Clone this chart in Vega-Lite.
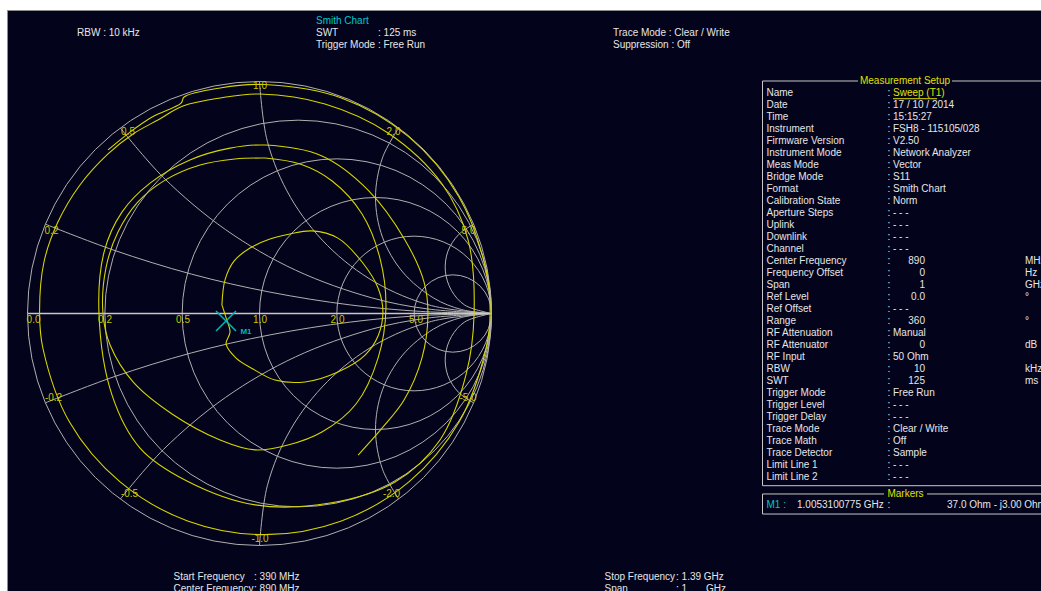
{
"$schema": "https://vega.github.io/schema/vega-lite/v6.json",
"width": 1034,
"height": 581,
"autosize": {"type": "none"},
"padding": {"left": 7, "top": 10, "right": 0, "bottom": 0},
"background": "#ffffff",
"config": {
  "view": {"fill": "#03031b", "stroke": "#8c8c8c", "strokeWidth": 1},
  "axis": {"disable": true},
  "legend": {"disable": true},
  "text": {"font": "Liberation Sans", "fontSize": 10}
},
"datasets": {
  "circles": [
    {"cu": 0, "d": 2, "v": 0},
    {"cu": 0.1667, "d": 1.6667, "v": 0},
    {"cu": 0.3333, "d": 1.3333, "v": 0},
    {"cu": 0.5, "d": 1, "v": 0},
    {"cu": 0.6667, "d": 0.6667, "v": 0},
    {"cu": 0.8333, "d": 0.3333, "v": 0}
  ],
  "arcs": [
    {"p": "a02", "i": 0, "u": -0.923, "v": 0.385}, {"p": "a02", "i": 1, "u": -0.628, "v": 0.273}, {"p": "a02", "i": 2, "u": -0.294, "v": 0.17}, {"p": "a02", "i": 3, "u": 0.046, "v": 0.092}, {"p": "a02", "i": 4, "u": 0.391, "v": 0.037}, {"p": "a02", "i": 5, "u": 0.695, "v": 0.009}, {"p": "a02", "i": 6, "u": 1, "v": 0},
    {"p": "a05", "i": 0, "u": -0.6, "v": 0.8}, {"p": "a05", "i": 1, "u": -0.414, "v": 0.586}, {"p": "a05", "i": 2, "u": -0.147, "v": 0.362}, {"p": "a05", "i": 3, "u": 0.155, "v": 0.187}, {"p": "a05", "i": 4, "u": 0.482, "v": 0.068}, {"p": "a05", "i": 5, "u": 0.722, "v": 0.02}, {"p": "a05", "i": 6, "u": 1, "v": 0},
    {"p": "a1", "i": 0, "u": 0, "v": 1}, {"p": "a1", "i": 1, "u": 0.034, "v": 0.741}, {"p": "a1", "i": 2, "u": 0.134, "v": 0.5}, {"p": "a1", "i": 3, "u": 0.293, "v": 0.293}, {"p": "a1", "i": 4, "u": 0.5, "v": 0.134}, {"p": "a1", "i": 5, "u": 0.741, "v": 0.034}, {"p": "a1", "i": 6, "u": 1, "v": 0},
    {"p": "a2", "i": 0, "u": 0.6, "v": 0.8}, {"p": "a2", "i": 1, "u": 0.53, "v": 0.671}, {"p": "a2", "i": 2, "u": 0.5, "v": 0.5}, {"p": "a2", "i": 3, "u": 0.53, "v": 0.329}, {"p": "a2", "i": 4, "u": 0.617, "v": 0.179}, {"p": "a2", "i": 5, "u": 0.75, "v": 0.067}, {"p": "a2", "i": 6, "u": 0.871, "v": 0.017}, {"p": "a2", "i": 7, "u": 1, "v": 0},
    {"p": "a5", "i": 0, "u": 0.923, "v": 0.385}, {"p": "a5", "i": 1, "u": 0.859, "v": 0.341}, {"p": "a5", "i": 2, "u": 0.812, "v": 0.268}, {"p": "a5", "i": 3, "u": 0.801, "v": 0.183}, {"p": "a5", "i": 4, "u": 0.827, "v": 0.1}, {"p": "a5", "i": 5, "u": 0.885, "v": 0.036}, {"p": "a5", "i": 6, "u": 1, "v": 0},
    {"p": "b02", "i": 0, "u": -0.923, "v": -0.385}, {"p": "b02", "i": 1, "u": -0.628, "v": -0.273}, {"p": "b02", "i": 2, "u": -0.294, "v": -0.17}, {"p": "b02", "i": 3, "u": 0.046, "v": -0.092}, {"p": "b02", "i": 4, "u": 0.391, "v": -0.037}, {"p": "b02", "i": 5, "u": 0.695, "v": -0.009}, {"p": "b02", "i": 6, "u": 1, "v": 0},
    {"p": "b05", "i": 0, "u": -0.6, "v": -0.8}, {"p": "b05", "i": 1, "u": -0.414, "v": -0.586}, {"p": "b05", "i": 2, "u": -0.147, "v": -0.362}, {"p": "b05", "i": 3, "u": 0.155, "v": -0.187}, {"p": "b05", "i": 4, "u": 0.482, "v": -0.068}, {"p": "b05", "i": 5, "u": 0.722, "v": -0.02}, {"p": "b05", "i": 6, "u": 1, "v": 0},
    {"p": "b1", "i": 0, "u": 0, "v": -1}, {"p": "b1", "i": 1, "u": 0.034, "v": -0.741}, {"p": "b1", "i": 2, "u": 0.134, "v": -0.5}, {"p": "b1", "i": 3, "u": 0.293, "v": -0.293}, {"p": "b1", "i": 4, "u": 0.5, "v": -0.134}, {"p": "b1", "i": 5, "u": 0.741, "v": -0.034}, {"p": "b1", "i": 6, "u": 1, "v": 0},
    {"p": "b2", "i": 0, "u": 0.6, "v": -0.8}, {"p": "b2", "i": 1, "u": 0.53, "v": -0.671}, {"p": "b2", "i": 2, "u": 0.5, "v": -0.5}, {"p": "b2", "i": 3, "u": 0.53, "v": -0.329}, {"p": "b2", "i": 4, "u": 0.617, "v": -0.179}, {"p": "b2", "i": 5, "u": 0.75, "v": -0.067}, {"p": "b2", "i": 6, "u": 0.871, "v": -0.017}, {"p": "b2", "i": 7, "u": 1, "v": 0},
    {"p": "b5", "i": 0, "u": 0.923, "v": -0.385}, {"p": "b5", "i": 1, "u": 0.859, "v": -0.341}, {"p": "b5", "i": 2, "u": 0.812, "v": -0.268}, {"p": "b5", "i": 3, "u": 0.801, "v": -0.183}, {"p": "b5", "i": 4, "u": 0.827, "v": -0.1}, {"p": "b5", "i": 5, "u": 0.885, "v": -0.036}, {"p": "b5", "i": 6, "u": 1, "v": 0}
  ],
  "trace": [
    {"p": "s", "i": 0, "u": -0.653, "v": 0.705}, {"p": "s", "i": 1, "u": -0.558, "v": 0.782}, {"p": "s", "i": 2, "u": -0.463, "v": 0.847}, {"p": "s", "i": 3, "u": -0.338, "v": 0.907}, {"p": "s", "i": 4, "u": -0.325, "v": 0.933}, {"p": "s", "i": 5, "u": -0.17, "v": 0.972},
    {"p": "s", "i": 6, "u": 0.022, "v": 0.987}, {"p": "s", "i": 7, "u": 0.353, "v": 0.929}, {"p": "s", "i": 8, "u": 0.644, "v": 0.761}, {"p": "s", "i": 9, "u": 0.86, "v": 0.502}, {"p": "s", "i": 10, "u": 0.976, "v": 0.188}, {"p": "s", "i": 11, "u": 0.994, "v": 0.002},
    {"p": "s", "i": 12, "u": 0.976, "v": -0.153}, {"p": "s", "i": 13, "u": 0.86, "v": -0.468}, {"p": "s", "i": 14, "u": 0.644, "v": -0.726}, {"p": "s", "i": 15, "u": 0.353, "v": -0.894}, {"p": "s", "i": 16, "u": 0.022, "v": -0.953}, {"p": "s", "i": 17, "u": -0.31, "v": -0.894},
    {"p": "s", "i": 18, "u": -0.601, "v": -0.726}, {"p": "s", "i": 19, "u": -0.819, "v": -0.468}, {"p": "s", "i": 20, "u": -0.933, "v": -0.153}, {"p": "s", "i": 21, "u": -0.948, "v": 0.002}, {"p": "s", "i": 22, "u": -0.929, "v": 0.222}, {"p": "s", "i": 23, "u": -0.869, "v": 0.394},
    {"p": "s", "i": 24, "u": -0.774, "v": 0.554}, {"p": "s", "i": 25, "u": -0.653, "v": 0.688}, {"p": "s", "i": 26, "u": -0.545, "v": 0.774}, {"p": "s", "i": 27, "u": -0.438, "v": 0.834}, {"p": "s", "i": 28, "u": -0.33, "v": 0.894}, {"p": "s", "i": 29, "u": -0.17, "v": 0.929},
    {"p": "s", "i": 30, "u": 0.002, "v": 0.946}, {"p": "s", "i": 31, "u": 0.282, "v": 0.903}, {"p": "s", "i": 32, "u": 0.554, "v": 0.778}, {"p": "s", "i": 33, "u": 0.787, "v": 0.558}, {"p": "s", "i": 34, "u": 0.899, "v": 0.317}, {"p": "s", "i": 35, "u": 0.925, "v": 0.002},
    {"p": "s", "i": 36, "u": 0.89, "v": -0.265}, {"p": "s", "i": 37, "u": 0.778, "v": -0.545}, {"p": "s", "i": 38, "u": 0.584, "v": -0.726}, {"p": "s", "i": 39, "u": 0.304, "v": -0.817}, {"p": "s", "i": 40, "u": -0.019, "v": -0.825}, {"p": "s", "i": 41, "u": -0.313, "v": -0.722},
    {"p": "s", "i": 42, "u": -0.515, "v": -0.58}, {"p": "s", "i": 43, "u": -0.636, "v": -0.351}, {"p": "s", "i": 44, "u": -0.692, "v": 0.002}, {"p": "s", "i": 45, "u": -0.67, "v": 0.265}, {"p": "s", "i": 46, "u": -0.593, "v": 0.437}, {"p": "s", "i": 47, "u": -0.472, "v": 0.562},
    {"p": "s", "i": 48, "u": -0.3, "v": 0.662}, {"p": "s", "i": 49, "u": -0.127, "v": 0.713}, {"p": "s", "i": 50, "u": 0.024, "v": 0.726}, {"p": "s", "i": 51, "u": 0.269, "v": 0.679}, {"p": "s", "i": 52, "u": 0.468, "v": 0.532}, {"p": "s", "i": 53, "u": 0.627, "v": 0.317},
    {"p": "s", "i": 54, "u": 0.709, "v": 0.136}, {"p": "s", "i": 55, "u": 0.726, "v": -0.006}, {"p": "s", "i": 56, "u": 0.7, "v": -0.192}, {"p": "s", "i": 57, "u": 0.623, "v": -0.373}, {"p": "s", "i": 58, "u": 0.528, "v": -0.494}, {"p": "s", "i": 59, "u": 0.425, "v": -0.61},
    {"p": "l4", "i": 0, "u": 0.024, "v": 0.67}, {"p": "l4", "i": 1, "u": 0.175, "v": 0.644}, {"p": "l4", "i": 2, "u": 0.313, "v": 0.571}, {"p": "l4", "i": 3, "u": 0.442, "v": 0.429}, {"p": "l4", "i": 4, "u": 0.519, "v": 0.239}, {"p": "l4", "i": 5, "u": 0.545, "v": 0.024},
    {"p": "l4", "i": 6, "u": 0.511, "v": -0.192}, {"p": "l4", "i": 7, "u": 0.416, "v": -0.39}, {"p": "l4", "i": 8, "u": 0.269, "v": -0.511}, {"p": "l4", "i": 9, "u": 0.123, "v": -0.567}, {"p": "l4", "i": 10, "u": -0.019, "v": -0.588}, {"p": "l4", "i": 11, "u": -0.17, "v": -0.545},
    {"p": "l4", "i": 12, "u": -0.377, "v": -0.433}, {"p": "l4", "i": 13, "u": -0.545, "v": -0.295}, {"p": "l4", "i": 14, "u": -0.644, "v": -0.136}, {"p": "l4", "i": 15, "u": -0.675, "v": 0.002}, {"p": "l4", "i": 16, "u": -0.662, "v": 0.196}, {"p": "l4", "i": 17, "u": -0.61, "v": 0.351},
    {"p": "l4", "i": 18, "u": -0.524, "v": 0.481}, {"p": "l4", "i": 19, "u": -0.407, "v": 0.575}, {"p": "l4", "i": 20, "u": -0.256, "v": 0.64}, {"p": "l4", "i": 21, "u": -0.106, "v": 0.666}, {"p": "l4", "i": 22, "u": 0.024, "v": 0.67},
    {"p": "in", "i": 0, "u": -0.162, "v": 0.037}, {"p": "in", "i": 1, "u": -0.149, "v": 0.144}, {"p": "in", "i": 2, "u": -0.11, "v": 0.226}, {"p": "in", "i": 3, "u": -0.041, "v": 0.282}, {"p": "in", "i": 4, "u": 0.045, "v": 0.321}, {"p": "in", "i": 5, "u": 0.131, "v": 0.343},
    {"p": "in", "i": 6, "u": 0.226, "v": 0.356}, {"p": "in", "i": 7, "u": 0.338, "v": 0.325}, {"p": "in", "i": 8, "u": 0.442, "v": 0.222}, {"p": "in", "i": 9, "u": 0.511, "v": 0.11}, {"p": "in", "i": 10, "u": 0.532, "v": 0.006}, {"p": "in", "i": 11, "u": 0.511, "v": -0.097},
    {"p": "in", "i": 12, "u": 0.455, "v": -0.179}, {"p": "in", "i": 13, "u": 0.338, "v": -0.252}, {"p": "in", "i": 14, "u": 0.196, "v": -0.295}, {"p": "in", "i": 15, "u": 0.067, "v": -0.287}, {"p": "in", "i": 16, "u": -0.028, "v": -0.239}, {"p": "in", "i": 17, "u": -0.101, "v": -0.192},
    {"p": "in", "i": 18, "u": -0.144, "v": -0.131}, {"p": "in", "i": 19, "u": -0.127, "v": -0.08}, {"p": "in", "i": 20, "u": -0.144, "v": -0.019}, {"p": "in", "i": 21, "u": -0.162, "v": 0.037}
  ],
  "glabels": [
    {"t": "0.0", "u": -0.9741, "v": -0.028}, {"t": "0.2", "u": -0.6659, "v": -0.028}, {"t": "0.5", "u": -0.3297, "v": -0.028}, {"t": "1.0", "u": 0.0022, "v": -0.028}, {"t": "2.0", "u": 0.3362, "v": -0.028}, {"t": "5.0", "u": 0.6746, "v": -0.028},
    {"t": "0.2", "u": -0.8966, "v": 0.3556}, {"t": "0.5", "u": -0.5668, "v": 0.7802}, {"t": "1.0", "u": 0.0022, "v": 0.9806}, {"t": "2.0", "u": 0.5776, "v": 0.7802}, {"t": "5.0", "u": 0.9009, "v": 0.3556},
    {"t": "-0.2", "u": -0.8879, "v": -0.3621}, {"t": "-0.5", "u": -0.5603, "v": -0.778}, {"t": "-1.0", "u": 0.0022, "v": -0.972}, {"t": "-2.0", "u": 0.569, "v": -0.778}, {"t": "-5.0", "u": 0.8987, "v": -0.3621}
  ],
  "rows": [
    {"row": 0, "label": "Name"},
    {"row": 1, "label": "Date", "val": "17 / 10 / 2014"},
    {"row": 2, "label": "Time", "val": "15:15:27"},
    {"row": 3, "label": "Instrument", "val": "FSH8 - 115105/028"},
    {"row": 4, "label": "Firmware Version", "val": "V2.50"},
    {"row": 5, "label": "Instrument Mode", "val": "Network Analyzer"},
    {"row": 6, "label": "Meas Mode", "val": "Vector"},
    {"row": 7, "label": "Bridge Mode", "val": "S11"},
    {"row": 8, "label": "Format", "val": "Smith Chart"},
    {"row": 9, "label": "Calibration State", "val": "Norm"},
    {"row": 10, "label": "Aperture Steps", "val": "- - -"},
    {"row": 11, "label": "Uplink", "val": "- - -"},
    {"row": 12, "label": "Downlink", "val": "- - -"},
    {"row": 13, "label": "Channel", "val": "- - -"},
    {"row": 14, "label": "Center Frequency", "num": "890", "unit": "MHz"},
    {"row": 15, "label": "Frequency Offset", "num": "0", "unit": "Hz"},
    {"row": 16, "label": "Span", "num": "1", "unit": "GHz"},
    {"row": 17, "label": "Ref Level", "num": "0.0", "unit": "°"},
    {"row": 18, "label": "Ref Offset", "val": "- - -"},
    {"row": 19, "label": "Range", "num": "360", "unit": "°"},
    {"row": 20, "label": "RF Attenuation", "val": "Manual"},
    {"row": 21, "label": "RF Attenuator", "num": "0", "unit": "dB"},
    {"row": 22, "label": "RF Input", "val": "50 Ohm"},
    {"row": 23, "label": "RBW", "num": "10", "unit": "kHz"},
    {"row": 24, "label": "SWT", "num": "125", "unit": "ms"},
    {"row": 25, "label": "Trigger Mode", "val": "Free Run"},
    {"row": 26, "label": "Trigger Level", "val": "- - -"},
    {"row": 27, "label": "Trigger Delay", "val": "- - -"},
    {"row": 28, "label": "Trace Mode", "val": "Clear / Write"},
    {"row": 29, "label": "Trace Math", "val": "Off"},
    {"row": 30, "label": "Trace Detector", "val": "Sample"},
    {"row": 31, "label": "Limit Line 1", "val": "- - -"},
    {"row": 32, "label": "Limit Line 2", "val": "- - -"}
  ],
  "free": [
    {"u": -0.7866, "row": -5, "t": "RBW : 10 kHz"},
    {"u": 0.2435, "row": -5, "t": "SWT"},
    {"u": 0.5108, "row": -5, "t": ": 125 ms"},
    {"u": 0.2435, "row": -4, "t": "Trigger Mode : Free Run"},
    {"u": 1.5237, "row": -5, "t": "Trace Mode : Clear / Write"},
    {"u": 1.5237, "row": -4, "t": "Suppression : Off"},
    {"u": -0.3707, "row": 40.31, "t": "Start Frequency"},
    {"u": -0.0237, "row": 40.31, "t": ": 390 MHz"},
    {"u": -0.3707, "row": 41.31, "t": "Center Frequency"},
    {"u": -0.0237, "row": 41.31, "t": ": 890 MHz"},
    {"u": 1.4871, "row": 40.31, "t": "Stop Frequency"},
    {"u": 1.7953, "row": 40.31, "t": ": 1.39 GHz"},
    {"u": 1.4871, "row": 41.31, "t": "Span"},
    {"u": 1.7953, "row": 41.31, "t": ": 1"},
    {"u": 1.9246, "row": 41.31, "t": "GHz"},
    {"u": 2.3168, "row": 34.33, "t": "1.0053100775 GHz"},
    {"u": 2.7069, "row": 34.33, "t": ":"},
    {"u": 2.9634, "row": 34.33, "t": "37.0  Ohm - j3.00 Ohm"}
  ],
  "cyan": [
    {"u": 0.2435, "row": -6, "t": "Smith Chart"},
    {"u": 2.1853, "row": 34.33, "t": "M1 :"}
  ],
  "titles": [
    {"u": 2.7823, "row": -1.025, "t": "Measurement Setup"},
    {"u": 2.7845, "row": 33.39, "t": "Markers"}
  ],
  "box": [
    {"x1": 2.1681, "x2": 2.5797, "y1": -1.025, "y2": -1.025},
    {"x1": 2.9849, "x2": 3.4, "y1": -1.025, "y2": -1.025},
    {"x1": 2.1681, "x2": 2.1681, "y1": -1.025, "y2": 32.7},
    {"x1": 2.1681, "x2": 3.4, "y1": 32.7, "y2": 32.7},
    {"x1": 2.1681, "x2": 2.6918, "y1": 33.39, "y2": 33.39},
    {"x1": 2.8772, "x2": 3.4, "y1": 33.39, "y2": 33.39},
    {"x1": 2.1681, "x2": 2.1681, "y1": 33.39, "y2": 35.06},
    {"x1": 2.1681, "x2": 3.4, "y1": 35.06, "y2": 35.06}
  ]
},
"layer": [
  {
    "layer": [
      {
        "data": {"name": "circles"},
        "mark": {"type": "point", "shape": "circle", "filled": false, "color": "#b0b0b0", "strokeWidth": 1, "opacity": 1},
        "encoding": {
          "x": {"field": "cu", "type": "quantitative", "scale": {"domain": [-1.0884, 3.3685], "nice": false, "zero": false}},
          "y": {"field": "v", "type": "quantitative", "scale": {"domain": [-1.1961, 1.3082], "nice": false, "zero": false}},
          "size": {"field": "d", "type": "quantitative", "scale": {"type": "pow", "exponent": 2, "domain": [0, 2], "range": [0, 215296]}, "legend": null}
        }
      },
      {
        "data": {"name": "arcs"},
        "mark": {"type": "line", "color": "#b0b0b0", "strokeWidth": 1, "interpolate": "catmull-rom"},
        "encoding": {
          "x": {"field": "u", "type": "quantitative", "scale": {"domain": [-1.0884, 3.3685], "nice": false, "zero": false}},
          "y": {"field": "v", "type": "quantitative", "scale": {"domain": [-1.1961, 1.3082], "nice": false, "zero": false}},
          "detail": {"field": "p", "type": "nominal"},
          "order": {"field": "i", "type": "quantitative"}
        }
      },
      {
        "data": {"values": [{"u1": -1, "u2": 1, "v": 0}]},
        "mark": {"type": "rule", "color": "#c8c8c8", "strokeWidth": 1.5},
        "encoding": {
          "x": {"field": "u1", "type": "quantitative", "scale": {"domain": [-1.0884, 3.3685], "nice": false, "zero": false}},
          "x2": {"field": "u2"},
          "y": {"field": "v", "type": "quantitative", "scale": {"domain": [-1.1961, 1.3082], "nice": false, "zero": false}}
        }
      },
      {
        "data": {"name": "trace"},
        "mark": {"type": "line", "color": "#d6d600", "strokeWidth": 1.1, "interpolate": "catmull-rom"},
        "encoding": {
          "x": {"field": "u", "type": "quantitative", "scale": {"domain": [-1.0884, 3.3685], "nice": false, "zero": false}},
          "y": {"field": "v", "type": "quantitative", "scale": {"domain": [-1.1961, 1.3082], "nice": false, "zero": false}},
          "detail": {"field": "p", "type": "nominal"},
          "order": {"field": "i", "type": "quantitative"}
        }
      },
      {
        "data": {"name": "glabels"},
        "mark": {"type": "text", "color": "#c8c800", "align": "center", "baseline": "middle", "font": "Liberation Sans", "fontSize": 10},
        "encoding": {
          "x": {"field": "u", "type": "quantitative", "scale": {"domain": [-1.0884, 3.3685], "nice": false, "zero": false}},
          "y": {"field": "v", "type": "quantitative", "scale": {"domain": [-1.1961, 1.3082], "nice": false, "zero": false}},
          "text": {"field": "t", "type": "nominal"}
        }
      },
      {
        "data": {"values": [{"u": -0.1444, "v": -0.0323}]},
        "mark": {"type": "point", "shape": "M-1,-1L1,1M-1,1L1,-1", "filled": false, "color": "#00b8b8", "strokeWidth": 1.5, "size": 400, "opacity": 1},
        "encoding": {
          "x": {"field": "u", "type": "quantitative", "scale": {"domain": [-1.0884, 3.3685], "nice": false, "zero": false}},
          "y": {"field": "v", "type": "quantitative", "scale": {"domain": [-1.1961, 1.3082], "nice": false, "zero": false}}
        }
      },
      {
        "data": {"values": [{"u": -0.0582, "v": -0.0797, "t": "M1"}]},
        "mark": {"type": "text", "color": "#00b8b8", "align": "center", "baseline": "middle", "font": "Liberation Sans", "fontSize": 8, "fontWeight": "bold"},
        "encoding": {
          "x": {"field": "u", "type": "quantitative", "scale": {"domain": [-1.0884, 3.3685], "nice": false, "zero": false}},
          "y": {"field": "v", "type": "quantitative", "scale": {"domain": [-1.1961, 1.3082], "nice": false, "zero": false}},
          "text": {"field": "t", "type": "nominal"}
        }
      }
    ]
  },
  {
    "layer": [
      {
        "data": {"name": "box"},
        "mark": {"type": "rule", "color": "#c8c8c8", "strokeWidth": 1},
        "encoding": {
          "x": {"field": "x1", "type": "quantitative", "scale": {"domain": [-1.0884, 3.3685], "nice": false, "zero": false}},
          "x2": {"field": "x2"},
          "y": {"field": "y1", "type": "quantitative", "scale": {"domain": [-6.942, 41.475], "reverse": true, "nice": false, "zero": false}},
          "y2": {"field": "y2"}
        }
      },
      {
        "data": {"values": [{"x1": 2.7306, "x2": 2.9203, "row": 0.45}]},
        "mark": {"type": "rule", "color": "#e0e000", "strokeWidth": 1},
        "encoding": {
          "x": {"field": "x1", "type": "quantitative", "scale": {"domain": [-1.0884, 3.3685], "nice": false, "zero": false}},
          "x2": {"field": "x2"},
          "y": {"field": "row", "type": "quantitative", "scale": {"domain": [-6.942, 41.475], "reverse": true, "nice": false, "zero": false}}
        }
      },
      {
        "data": {"name": "rows"},
        "mark": {"type": "text", "color": "#e6e6e6", "align": "left", "baseline": "middle", "font": "Liberation Sans", "fontSize": 10},
        "encoding": {
          "x": {"datum": 2.1853, "type": "quantitative", "scale": {"domain": [-1.0884, 3.3685], "nice": false, "zero": false}},
          "y": {"field": "row", "type": "quantitative", "scale": {"domain": [-6.942, 41.475], "reverse": true, "nice": false, "zero": false}},
          "text": {"field": "label", "type": "nominal"}
        }
      },
      {
        "data": {"name": "rows"},
        "mark": {"type": "text", "color": "#e6e6e6", "align": "left", "baseline": "middle", "font": "Liberation Sans", "fontSize": 10},
        "encoding": {
          "x": {"datum": 2.7069, "type": "quantitative", "scale": {"domain": [-1.0884, 3.3685], "nice": false, "zero": false}},
          "y": {"field": "row", "type": "quantitative", "scale": {"domain": [-6.942, 41.475], "reverse": true, "nice": false, "zero": false}},
          "text": {"value": ":"}
        }
      },
      {
        "data": {"name": "rows"},
        "transform": [{"filter": "isValid(datum.val)"}],
        "mark": {"type": "text", "color": "#e6e6e6", "align": "left", "baseline": "middle", "font": "Liberation Sans", "fontSize": 10},
        "encoding": {
          "x": {"datum": 2.7306, "type": "quantitative", "scale": {"domain": [-1.0884, 3.3685], "nice": false, "zero": false}},
          "y": {"field": "row", "type": "quantitative", "scale": {"domain": [-6.942, 41.475], "reverse": true, "nice": false, "zero": false}},
          "text": {"field": "val", "type": "nominal"}
        }
      },
      {
        "data": {"name": "rows"},
        "transform": [{"filter": "isValid(datum.num)"}],
        "mark": {"type": "text", "color": "#e6e6e6", "align": "right", "baseline": "middle", "font": "Liberation Sans", "fontSize": 10},
        "encoding": {
          "x": {"datum": 2.8685, "type": "quantitative", "scale": {"domain": [-1.0884, 3.3685], "nice": false, "zero": false}},
          "y": {"field": "row", "type": "quantitative", "scale": {"domain": [-6.942, 41.475], "reverse": true, "nice": false, "zero": false}},
          "text": {"field": "num", "type": "nominal"}
        }
      },
      {
        "data": {"name": "rows"},
        "transform": [{"filter": "isValid(datum.unit)"}],
        "mark": {"type": "text", "color": "#e6e6e6", "align": "left", "baseline": "middle", "font": "Liberation Sans", "fontSize": 10},
        "encoding": {
          "x": {"datum": 3.2996, "type": "quantitative", "scale": {"domain": [-1.0884, 3.3685], "nice": false, "zero": false}},
          "y": {"field": "row", "type": "quantitative", "scale": {"domain": [-6.942, 41.475], "reverse": true, "nice": false, "zero": false}},
          "text": {"field": "unit", "type": "nominal"}
        }
      },
      {
        "data": {"values": [{"row": 0, "t": "Sweep (T1)"}]},
        "mark": {"type": "text", "color": "#e0e000", "align": "left", "baseline": "middle", "font": "Liberation Sans", "fontSize": 10},
        "encoding": {
          "x": {"datum": 2.7306, "type": "quantitative", "scale": {"domain": [-1.0884, 3.3685], "nice": false, "zero": false}},
          "y": {"field": "row", "type": "quantitative", "scale": {"domain": [-6.942, 41.475], "reverse": true, "nice": false, "zero": false}},
          "text": {"field": "t", "type": "nominal"}
        }
      },
      {
        "data": {"name": "titles"},
        "mark": {"type": "text", "color": "#e0e000", "align": "center", "baseline": "middle", "font": "Liberation Sans", "fontSize": 10},
        "encoding": {
          "x": {"field": "u", "type": "quantitative", "scale": {"domain": [-1.0884, 3.3685], "nice": false, "zero": false}},
          "y": {"field": "row", "type": "quantitative", "scale": {"domain": [-6.942, 41.475], "reverse": true, "nice": false, "zero": false}},
          "text": {"field": "t", "type": "nominal"}
        }
      },
      {
        "data": {"name": "free"},
        "mark": {"type": "text", "color": "#e6e6e6", "align": "left", "baseline": "middle", "font": "Liberation Sans", "fontSize": 10},
        "encoding": {
          "x": {"field": "u", "type": "quantitative", "scale": {"domain": [-1.0884, 3.3685], "nice": false, "zero": false}},
          "y": {"field": "row", "type": "quantitative", "scale": {"domain": [-6.942, 41.475], "reverse": true, "nice": false, "zero": false}},
          "text": {"field": "t", "type": "nominal"}
        }
      },
      {
        "data": {"name": "cyan"},
        "mark": {"type": "text", "color": "#00c8c8", "align": "left", "baseline": "middle", "font": "Liberation Sans", "fontSize": 10},
        "encoding": {
          "x": {"field": "u", "type": "quantitative", "scale": {"domain": [-1.0884, 3.3685], "nice": false, "zero": false}},
          "y": {"field": "row", "type": "quantitative", "scale": {"domain": [-6.942, 41.475], "reverse": true, "nice": false, "zero": false}},
          "text": {"field": "t", "type": "nominal"}
        }
      }
    ]
  }
],
"resolve": {"scale": {"y": "independent"}}
}
